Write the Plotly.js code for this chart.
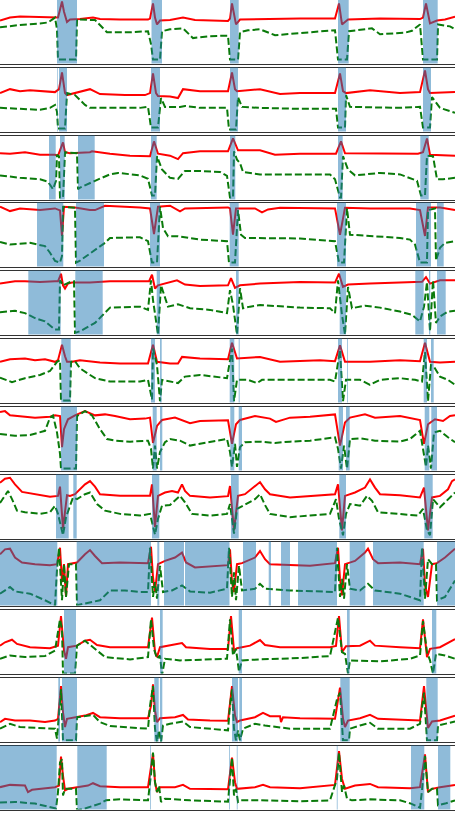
<!DOCTYPE html>
<html>
<head>
<meta charset="utf-8">
<script src="https://cdn.plot.ly/plotly-3.0.1.min.js"></script>
<style>
  html, body { margin: 0; padding: 0; background: #fff; }
  #ecg { width: 455px; height: 813px; }
</style>
</head>
<body>
<div id="ecg"></div>
<script>
// 12 leads, each: red = signal, green dashed = second channel, shaded = flagged spans
// x = sample index (0..455), y = deflection below the lead's top edge (0..65)

const red1 = [[0,21],[10,18],[20,17],[40,17.5],[55,18],[58,18],[60,10],[62,1.5],[64,12],[67,22.5],[70,20],[80,19.5],[93,18],[100,19.5],[120,20],[148,20],[150,19],[153,3.5],[155,18],[157,25],[160,21],[170,20.5],[183,18],[195,20.5],[228,21.5],[230,19],[232,3.5],[234,16],[236,25],[240,20],[260,19.5],[300,19],[335,19],[339,3.5],[342,25],[348,20],[380,19],[420,19.5],[423,18],[426,3.5],[430,24],[437,21],[445,20],[455,17]];
const green1 = [[0,28],[20,25.5],[40,24],[48,23],[55,18],[57,30],[58,61],[76,61],[77,20],[95,20.5],[107,33],[130,33],[148,32],[151,45],[153,61],[160,61],[162,32],[170,30],[183,29],[193,39],[210,37],[228,36.5],[230,61],[238,61],[240,33],[248,31],[260,30],[275,36],[310,33],[335,31],[338,61],[347,61],[349,32],[365,30],[372,29],[380,35],[405,33.5],[412,31.5],[420,25],[423,61],[437,61],[438,25],[450,27],[455,30]];
const shade1 = [[57,77],[151.5,162],[230,238.7],[338,348.7],[423,437.7]];

const red2 = [[0,26],[10,22],[20,24],[30,23],[55,25],[59,22],[62,5],[65,26],[67,28],[75,26],[90,22],[100,27],[125,28],[145,28],[150,26],[153,6],[156,26],[158,29],[170,29.5],[178,31],[183,22],[200,24],[228,24],[232,5],[235,22],[237,24],[260,22],[280,27],[300,26],[335,26],[340,6],[343,24],[346,26],[370,23],[400,26],[420,25],[425,3],[428,22],[430,26],[455,25]];
const green2 = [[0,41],[40,43],[50,41],[55,38],[57,45],[58,62],[65,62],[67,26],[75,28],[85,38],[90,41],[140,41],[148,40],[151,61],[158,61],[161,31],[165,40],[180,40],[185,39],[200,41],[227,41],[229,63],[236,63],[238,30],[242,40],[260,41],[300,42],[330,42],[336,42],[338,61],[345,61],[346,28],[350,40],[400,41],[420,40],[423,61],[430,61],[432,30],[440,41],[455,46]];
const shade2 = [[57.3,58],[59,67],[151,160],[230,238],[338,346],[423,431]];

const red3 = [[0,18],[10,18.5],[25,17],[40,19.5],[55,19.5],[58,20.5],[63,7],[65,17],[70,18],[90,17],[92,16],[110,18.5],[130,20.5],[150,21],[154,6],[158,18.5],[170,20.5],[178,24],[183,18],[200,16],[228,16],[233,3],[238,15],[260,15],[275,19.5],[300,18.5],[336,18.5],[341,6],[345,18],[370,18],[400,18.5],[418,18.5],[423,17],[427,3],[430,19.5],[455,20.5]];
const green3 = [[0,40.5],[20,43],[40,44.5],[48,47],[53,54.5],[56,46],[57,19.5],[59,21],[60,63],[63,63],[65,17],[77,18],[78,54.5],[80,53],[95,46],[110,39.5],[118,38],[140,40.5],[148,44],[152,61],[155,61],[157,21],[162,34.5],[170,43],[178,44],[185,36],[200,36],[220,37],[227,41],[230,63],[233,63],[234,16],[237,24.5],[240,28],[243,37],[260,39.5],[330,39.5],[335,44.5],[340,63],[341,63],[343,21],[348,34.5],[355,40.5],[380,38],[400,39.5],[410,43],[417,46],[421,61],[425,61],[427,20.5],[433,21],[437,44.5],[443,44.5],[455,43]];
const shade3 = [[49,55.7],[60,64.7],[78,94.7],[151,156.7],[230,235.3],[338,342.7],[420.3,428.7]];

const red4 = [[0,4.3],[10,8.7],[20,6],[40,7.7],[55,6],[60,8],[62,34],[64,4.3],[75,5],[90,7.7],[95,7.7],[105,3.3],[140,5],[150,6],[154,32],[158,4.3],[170,3.3],[180,9],[185,6],[228,5],[230,6],[233,32.7],[236,6],[255,6],[262,10],[268,7],[280,5.3],[335,6],[340,32.7],[345,5.3],[370,6],[410,6],[420,7.7],[425,34],[428,5],[440,5],[455,7.7]];
const green4 = [[0,40],[10,42.7],[30,41],[45,44.3],[50,51],[55,59.3],[60,61],[62,54.3],[63,4.3],[75,5.3],[76,61],[80,59],[105,41],[110,36],[140,35.3],[148,39.3],[152,61],[157,61],[160,4.3],[163,26],[168,34.3],[178,34.3],[200,37.7],[227,39.3],[229,61],[235,61],[238,7.7],[241,32.7],[245,36],[300,36.5],[335,39.3],[339,61],[344,61],[347,6],[350,32.7],[380,34.3],[400,36],[410,37.7],[415,42.7],[420,61],[427,61],[428,7.7],[435,6],[436,59],[440,46],[445,41],[455,39.3]];
const shade4 = [[37,63.3],[76,104],[150,160],[229.7,238.7],[337,346],[416,431],[437,443.7]];

const red5 = [[0,13.3],[15,11],[25,11],[40,11.7],[55,11],[58,11],[61,3.3],[63,15],[65,18.3],[68,13.3],[72,12.3],[90,12.3],[110,11],[145,11],[149,11],[152,4.3],[155,18.3],[158,15],[170,11.7],[177,10],[185,14.3],[200,15.7],[228,15],[231,7.7],[235,17.7],[240,15],[260,13.3],[300,11.7],[335,12.3],[339,3.3],[343,16.7],[348,14.3],[370,13.3],[415,11.7],[422,11.5],[426,6.7],[430,13.3],[440,10],[455,10]];
const green5 = [[0,42.3],[15,41],[25,43.3],[35,48.3],[45,51.7],[55,60],[59,60],[60,10],[63,15],[67,13.3],[72,11],[74,11],[75,63.3],[80,61.7],[95,53.3],[103,45],[110,37.7],[140,36.7],[148,40],[151,10],[153,30],[158,65],[161,15],[168,36.7],[178,34.3],[190,38.3],[210,40],[227,43.3],[230,20],[233,35],[237,65],[240,18],[243,38.3],[250,36.7],[260,35],[300,37.7],[330,38.3],[335,43.3],[338,10],[342,45],[345,65],[348,16.7],[352,38.3],[365,35.7],[380,37.7],[400,41.7],[412,45],[420,51.7],[424,36.7],[427,11.7],[430,61.7],[433,10],[436,53.3],[440,46.7],[448,41.7],[455,41]];
const shade5 = [[28.3,60.7],[75.3,102.7],[156.7,160],[236,238.7],[339.7,346],[415.3,423.7],[429,430.3],[437,445.7]];

const red6 = [[0,23.7],[10,21],[25,20.3],[35,22],[45,21],[55,23.7],[58,22],[62,6.3],[65,18],[67,23.7],[72,23.7],[80,22],[100,24.3],[120,25.3],[148,25.3],[153,6.3],[157,23.7],[170,25.3],[178,25.3],[182,18.7],[200,20.3],[228,21],[232,4.3],[237,20.3],[260,18.7],[280,23.7],[320,22],[335,23],[340,7],[345,23.7],[370,23.7],[400,22],[420,23],[425,4.3],[430,23.7],[440,24.3],[455,23.7]];
const green6 = [[0,39.7],[12,44.3],[25,40.3],[40,37],[50,33],[57,23.7],[60,22],[61,63],[70,63],[71,23.7],[75,23],[80,30.3],[95,40.3],[110,43.7],[140,43.7],[148,42],[152,62],[153,10.3],[157,27],[160,63.7],[162,42],[170,43.7],[178,45.3],[185,38.7],[200,37],[227,40.3],[232,10.3],[234,63.7],[237,42],[248,42],[257,45.3],[262,42],[330,42],[335,43.7],[340,12],[343,63.7],[346,42],[360,42],[370,47],[380,42],[400,40.3],[415,42],[422,43.7],[425,13.7],[428,63.7],[431,27],[434,28.7],[440,38.7],[448,42],[455,47]];
const shade6 = [[61.3,70.7],[151,155],[160,161.7],[229.7,234.3],[238.7,239.7],[338,342],[347,347.8],[423.7,427],[431,433.7]];

const red7 = [[0,5.7],[5,4.7],[10,9],[20,9.7],[35,11.3],[50,10.3],[55,9],[60,9.7],[62,41.3],[64,23],[68,13],[75,9],[85,4.7],[95,9],[105,8],[115,9.7],[130,13],[145,12.3],[150,11.3],[153,37],[157,19.7],[162,13.7],[175,11.3],[190,17],[200,14.7],[228,14],[232,38],[236,18],[240,13.7],[255,9.7],[270,12.3],[276,15.7],[290,11.3],[310,10.3],[335,8],[340,39.7],[345,16.3],[350,11.3],[365,8],[375,11.3],[400,9.7],[420,13.7],[424,38],[428,18],[435,13],[443,14.7],[450,9.7],[455,9]];
const green7 = [[0,28],[15,29.7],[30,29],[45,24.7],[50,11.3],[53,9],[57,26.3],[60,48],[61,63],[76,63],[77,9.7],[85,4.7],[92,9],[100,23],[107,33],[115,34.7],[130,35.7],[148,34.7],[151,43],[153,63],[155,39.7],[157,63],[160,46.3],[165,36.3],[170,33],[180,34.7],[190,39.7],[200,38],[227,33],[230,46.3],[232,61.3],[235,38],[237,61.3],[240,41.3],[245,36.3],[260,35.7],[275,37],[290,35.7],[310,34.7],[335,31.3],[338,43],[341,63],[344,39.7],[347,63],[350,33],[360,32.3],[375,34.7],[400,35.7],[410,33],[420,24.7],[423,43],[426,61.3],[428,39.7],[431,63],[434,26.3],[440,24.7],[448,31.3],[455,36.3]];
const shade7 = [[61,77],[152.7,156.7],[160,162.3],[230.3,234.3],[238.7,242],[338.7,343],[346,349.7],[424.7,429.3],[431.3,437]];

const red8 = [[0,8.3],[5,4.3],[10,3.3],[15,10],[22,17.7],[35,20],[50,22.7],[58,21.7],[60,12.3],[63,55],[67,21],[70,21.7],[75,20],[85,10],[90,6.7],[95,12.3],[100,20],[120,21.7],[150,21.7],[152,10],[155,53.3],[158,21.7],[165,18.3],[172,16.7],[178,18.3],[182,10],[185,16.7],[190,21.7],[210,23.3],[228,22],[230,11.7],[234,56.7],[238,21.7],[245,20],[255,12.3],[260,7.7],[265,15],[270,20],[290,23.3],[335,20],[338,10],[342,56.7],[345,21.7],[355,18.3],[365,13.3],[370,5],[375,13.3],[380,20],[400,21],[420,23.3],[424,13.3],[428,56.7],[432,23.3],[440,21.7],[448,15],[452,6.7],[455,5]];
const green8 = [[0,29],[5,21.7],[8,16.7],[12,25],[17,36.7],[25,38.3],[40,40],[50,38.3],[55,31.7],[58,40],[60,48.3],[63,61.7],[66,43.3],[70,31.7],[73,23.3],[77,25],[85,20],[90,18.3],[97,30],[105,36.7],[120,40],[140,41.7],[150,40],[152,48.3],[155,61],[158,45],[162,31.7],[170,31],[180,21.7],[185,28.3],[192,40],[210,41.7],[227,40],[230,30],[234,60],[237,35],[243,31.7],[255,25],[260,20],[265,31],[270,40],[290,43.3],[310,41.7],[330,40],[336,25],[339,45],[343,61.7],[346,40],[350,30],[360,31.7],[367,21.7],[372,26.7],[378,38.3],[400,40],[418,41.7],[423,35],[427,56.7],[430,61.7],[433,25],[440,33.3],[448,25],[455,18.3]];
const shade8 = [[56,68.7],[73.3,76.7],[152,159.3],[231,238.7],[339.3,346],[424.3,432.7]];

const red9 = [[0,13],[5,8],[10,7.3],[15,16.3],[22,21.3],[35,23],[50,24],[57,23],[60,6.3],[62,41.3],[64,23],[66,56.3],[68,23],[77,21.3],[85,13],[90,8.7],[95,14.7],[102,22],[120,21.3],[148,22],[151,5.3],[153,36.3],[155,51.3],[158,23],[165,19.7],[175,16.3],[182,11.3],[186,21.3],[195,26.3],[228,24],[230,8],[232,41.3],[234,51.3],[237,23],[242,22],[255,16.3],[260,9.7],[265,18],[270,23],[290,24],[310,24.7],[335,22],[338,6.3],[340,38],[342,54.7],[345,23],[355,19.7],[365,11.3],[368,7.3],[373,18],[378,22],[400,21.3],[420,23],[423,7.3],[425,44.7],[428,56.3],[432,23],[437,22],[445,16.3],[455,7.3]];
const green9 = [[0,53],[10,46.3],[15,50.7],[30,53],[45,59.7],[55,64.7],[57,28],[59,6.3],[62,59.7],[64,23],[66,56.3],[69,23],[76,23],[77,64.7],[85,63],[100,59.7],[110,49.7],[125,49.7],[140,51.3],[148,51.3],[150,6.3],[153,56.3],[155,41.3],[157,58],[160,24.7],[163,51.3],[172,49.7],[182,44.7],[190,50.7],[210,52],[227,48],[229,6.3],[232,56.3],[234,31.3],[236,59.7],[239,24.7],[242,49.7],[255,48],[260,43],[265,48],[290,49.7],[320,50.7],[335,51.3],[337,6.3],[340,56.3],[342,38],[344,58],[347,23],[350,48],[360,49.7],[368,43],[375,49.7],[400,53],[420,59.7],[422,6.3],[425,58],[428,18],[432,23],[436,23],[437,59.7],[445,56.3],[455,39.7]];
const shade9 = [[0,57.3],[76.7,151],[157.3,159.3],[164,184],[185,229.5],[243,256],[268.7,271],[281,290],[298,337],[349.7,365.3],[373,423.7],[437,455]];

const red10 = [[0,36.7],[5,33.3],[12,30.7],[17,35],[30,38.3],[50,39.3],[58,36.7],[61,6.7],[64,41.7],[66,50],[68,38.3],[77,36.7],[85,31.7],[90,30.7],[97,36],[110,38.3],[148,38.3],[152,8.3],[155,43.3],[157,48.3],[160,38.3],[172,36],[182,34],[186,38.3],[210,40],[228,40],[231,6.7],[234,41.7],[237,39.3],[250,36.7],[260,31],[265,36],[280,38.3],[330,38.3],[336,37],[339,6.7],[342,43.3],[346,37.3],[360,36.7],[370,31.7],[375,36.7],[400,38.3],[420,39.3],[423,10],[427,48.3],[430,40],[440,38.3],[455,30]];
const green10 = [[0,50],[10,46.7],[25,48.3],[45,47.3],[55,41.7],[60,10],[62,20],[63,65],[75,65],[77,36.7],[85,31.7],[95,40],[105,48.3],[130,50.7],[148,48.3],[151,10],[154,40],[157,50],[160,46.7],[162,66.7],[165,50],[180,51.7],[227,50],[230,10],[233,46.7],[236,40],[239,63.3],[242,51.7],[260,50.7],[300,49.3],[330,47.3],[338,8.3],[342,43.3],[345,45],[348,65],[350,51.7],[380,52.7],[410,50],[420,46.7],[423,11.7],[427,43.3],[430,51.7],[433,65],[436,45],[445,46.7],[455,50]];
const shade10 = [[64,76],[160,162.7],[238.7,242],[347,349.7],[432,436.3]];

const red11 = [[0,45.3],[5,42],[15,43.7],[30,43.7],[45,45.3],[55,43.7],[58,42],[61,8.7],[63,35.3],[65,50.3],[67,42],[77,40.3],[85,38.7],[93,36],[100,40.3],[120,41.3],[148,41.3],[151,28.7],[153,7],[155,33.7],[157,45.3],[160,41.3],[175,40.3],[183,38],[188,42.7],[210,43.7],[228,44],[232,8.7],[235,38.7],[237,45.3],[240,43.7],[255,40.3],[263,36],[270,39.3],[280,39.3],[281,45.3],[283,40.3],[300,41.3],[335,42],[340,10.3],[343,42],[345,50.3],[348,43.7],[360,41.3],[370,38],[378,42],[400,42.7],[420,43.7],[424,8.7],[428,51.3],[432,44.7],[440,43.7],[455,38.7]];
const green11 = [[0,52],[10,47],[20,50.3],[40,51],[55,52],[57,62],[60,22],[61,12],[63,63.7],[76,63.7],[77,40.3],[93,38],[100,45.3],[110,49.3],[148,52],[150,28.7],[153,8.7],[155,52],[157,65.3],[159,53.7],[161,65.3],[163,48.7],[170,47],[183,44.7],[190,50.3],[228,53.7],[230,28.7],[232,12],[234,52],[236,63.7],[238,53.7],[240,63.7],[243,52],[255,47],[265,48.7],[275,50.3],[290,52],[330,52],[337,22],[340,15.3],[343,63.7],[349,63.7],[350,52],[360,48.7],[370,46],[378,52],[410,52],[420,47],[424,15.3],[427,63.7],[437,63.7],[438,48.7],[445,47],[455,44.7]];
const shade11 = [[58.3,60],[62,77],[154.3,158.7],[160,162.3],[232,238],[239.3,242],[340.3,349.7],[426.3,437.7]];

const red12 = [[0,42.3],[10,40],[25,40.7],[28,47.3],[32,45],[45,43.3],[55,42.3],[59,40.7],[61,11.3],[63,30.7],[65,45.7],[68,44],[77,42.3],[88,40.7],[93,38.3],[100,41.3],[120,42.3],[148,42.3],[153,8],[155,37.3],[157,47.3],[160,42.3],[175,42.3],[183,40],[190,44],[228,44.5],[232,12.3],[235,37.3],[237,44],[255,42.3],[263,40],[270,42.3],[300,43.3],[335,40],[339,5.7],[342,34],[345,44],[355,40.7],[370,39],[378,42.3],[410,43.3],[420,42.3],[425,9],[428,47.3],[432,44],[440,42.3],[455,40]];
const green12 = [[0,58],[15,57.3],[35,59],[50,62.3],[56,64],[58,47.3],[60,17.3],[62,14],[63,50.7],[65,44],[76,44],[77,65.7],[85,64],[100,59],[106,55.7],[120,54.7],[148,55.7],[151,29],[153,7.3],[155,37.3],[157,47.3],[159,40.7],[161,57.3],[165,54],[190,55.7],[228,57],[230,30.7],[232,12.3],[234,50.7],[236,44],[238,57.3],[240,55.7],[260,55.7],[300,56.7],[330,55.7],[337,34],[339,7.3],[342,47.3],[344,40.7],[347,54],[352,55.7],[370,54.7],[400,55.7],[411,59],[420,63.3],[422,45.7],[425,10.7],[428,47.3],[432,44],[437,44],[438,60.7],[445,59],[455,55.7]];
const shade12 = [[0,56.7],[77.3,106.7],[150,150.8],[229,229.8],[236.8,237.6],[336.8,337.6],[411,424.3],[438,450.3]];

const reds = [red1, red2, red3, red4, red5, red6, red7, red8, red9, red10, red11, red12];
const greens = [green1, green2, green3, green4, green5, green6, green7, green8, green9, green10, green11, green12];
const shades = [shade1, shade2, shade3, shade4, shade5, shade6, shade7, shade8, shade9, shade10, shade11, shade12];

const H = 813;
const step = 67.8;   // px between lead tops
const panelH = 64;   // px per lead

var data = [];
var shapes = [];
var layout = {
    width: 455,
    height: H,
    margin: {l: 0, r: 0, t: 0, b: 0},
    paper_bgcolor: '#fff',
    plot_bgcolor: '#fff',
    showlegend: false,
};

for (let i = 0; i < 12; i++) {
    const s = i === 0 ? '' : String(i + 1);
    // first lead's top edge sits just above the page, as in the reference crop
    const top = Math.round(step * i) - 0.5;

    data.push({
        x: reds[i].map(p => p[0]),
        y: reds[i].map(p => p[1]),
        xaxis: 'x' + s, yaxis: 'y' + s,
        mode: 'lines',
        line: {color: '#ff0000', width: 2},
        hoverinfo: 'skip',
    });
    data.push({
        x: greens[i].map(p => p[0]),
        y: greens[i].map(p => p[1]),
        xaxis: 'x' + s, yaxis: 'y' + s,
        mode: 'lines',
        line: {color: '#0a7a0a', width: 2, dash: '7px,3px'},
        hoverinfo: 'skip',
    });

    layout['xaxis' + s] = {
        anchor: 'y' + s,
        range: [0, 455],
        showticklabels: false, ticks: '',
        showgrid: false, zeroline: false,
        showline: true, mirror: true,
        linecolor: '#333', linewidth: 1,
    };
    layout['yaxis' + s] = {
        anchor: 'x' + s,
        domain: [Math.max(0, 1 - (top + panelH) / H), Math.min(1, 1 - top / H)],
        range: [65, 0],
        showticklabels: false, ticks: '',
        showgrid: false, zeroline: false, showline: false,
    };

    shades[i].forEach(function (sp) {
        shapes.push({
            type: 'rect', layer: 'above',
            xref: 'x' + s, yref: 'y' + s + ' domain',
            x0: sp[0], x1: sp[1], y0: 0, y1: 1,
            fillcolor: '#1f77b4', opacity: 0.5,
            line: {width: 0},
        });
    });
}
layout.shapes = shapes;

Plotly.newPlot('ecg', data, layout, {staticPlot: true, displayModeBar: false});
</script>
</body>
</html>
